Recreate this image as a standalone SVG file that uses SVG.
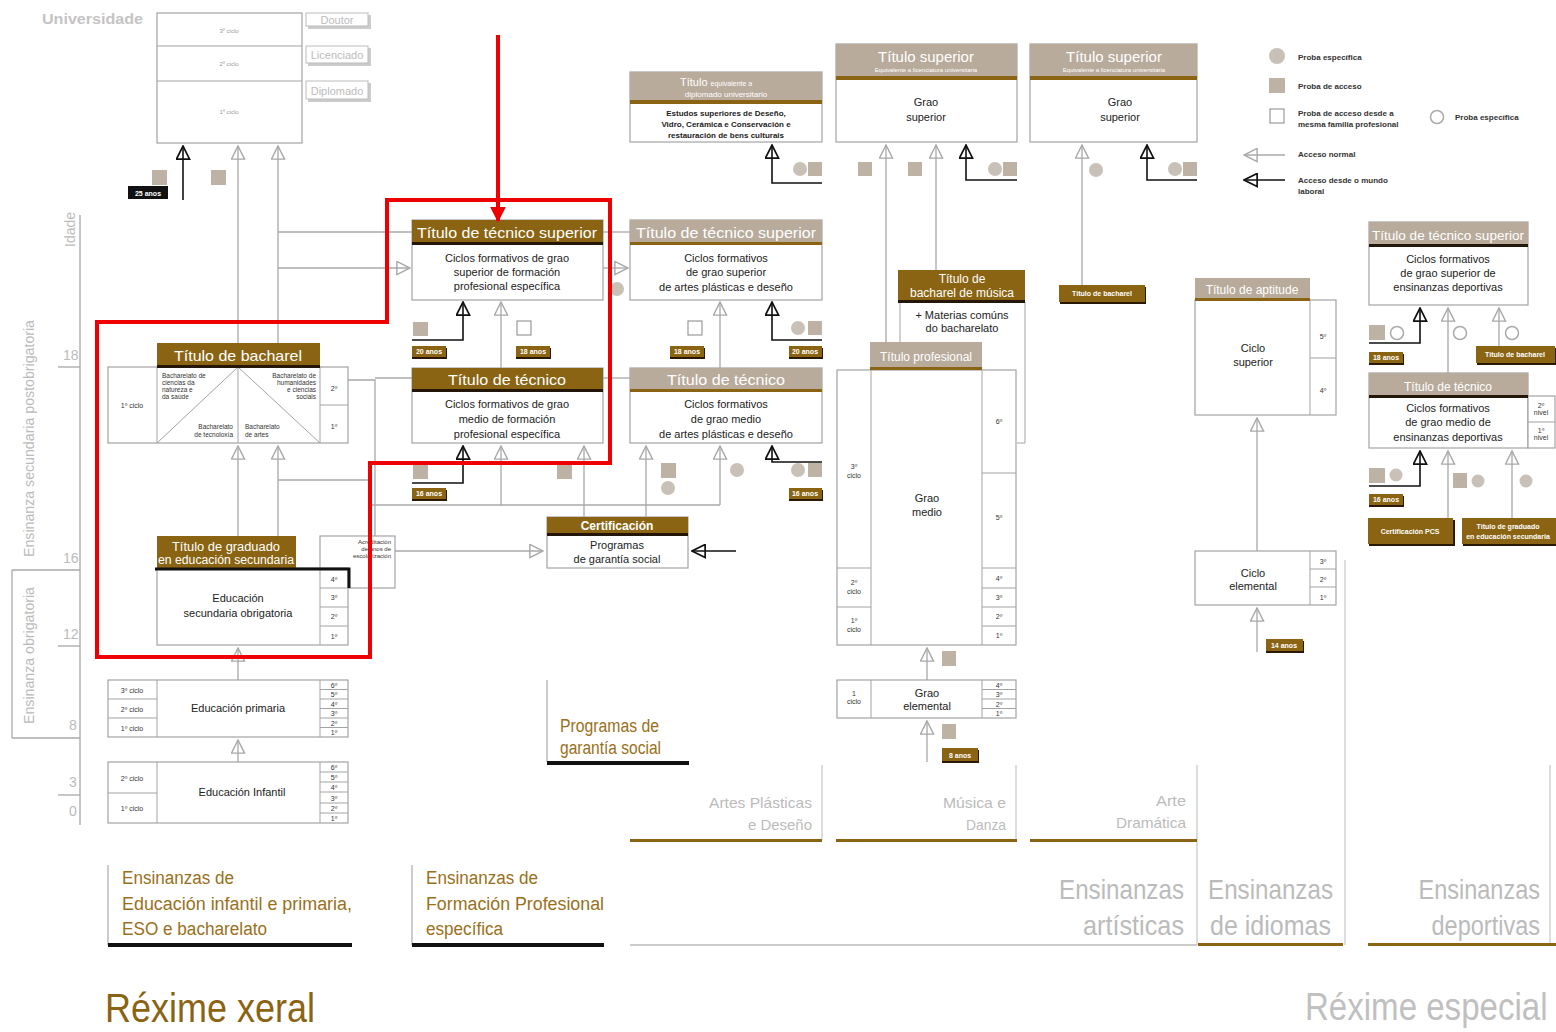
<svg xmlns="http://www.w3.org/2000/svg" width="1556" height="1032" viewBox="0 0 1556 1032">
<defs>
<style>
text{font-family:"Liberation Sans Narrow","Liberation Sans",Arial,sans-serif}
.box{fill:#fff;stroke:#a3a3a3;stroke-width:1.2}
.cell{fill:none;stroke:#a3a3a3;stroke-width:1}
.hb{fill:#8a6412}
.hg{fill:#b8ab9b}
.ulb{fill:#24170a}
.ulg{fill:#8a6412}
.ht{fill:#fff;font-size:15px;text-anchor:middle}
.hs{fill:#fff;font-size:12px;text-anchor:middle}
.bt{fill:#222;font-size:11px;text-anchor:middle}
.tn{fill:#333;font-size:7px;text-anchor:middle}
.tg{fill:#999;font-size:6px;text-anchor:middle}
.ln{stroke:#a8a8a8;stroke-width:1.3;fill:none}
.lk{stroke:#111;stroke-width:1.6;fill:none}
.sq{fill:#bdb2a3}
.ci{fill:#c9c1b7}
.wsq{fill:#fff;stroke:#999;stroke-width:1.2}
.wci{fill:#fff;stroke:#aaa;stroke-width:1.5}
.agr{fill:#8a6412}
.ags{fill:#2a1a05}
.agt{fill:#fff;font-size:7px;font-weight:bold;text-anchor:middle}
.ax{fill:#bbb;font-size:14px}
.cat{fill:#9a7020;font-size:18px}
.catg{fill:#bbb;font-size:15px;text-anchor:end}
.big{fill:#bbb;font-size:28px}
.lg{fill:#333;font-size:8px;font-weight:bold}
.red{stroke:#ee0000;stroke-width:4;fill:none}
</style>
<marker id="ag" viewBox="0 0 16 16" refX="15" refY="8" markerWidth="15" markerHeight="15" orient="auto" markerUnits="userSpaceOnUse">
<path d="M1,1 L15,8 L1,15 Z" fill="none" stroke="#a8a8a8" stroke-width="1.5"/>
</marker>
<marker id="ak" viewBox="0 0 16 16" refX="15" refY="8" markerWidth="15" markerHeight="15" orient="auto" markerUnits="userSpaceOnUse">
<path d="M1,1 L15,8 L1,15 Z" fill="none" stroke="#111" stroke-width="1.8"/>
</marker>
<marker id="ar" viewBox="0 0 10 10" refX="9" refY="5" markerWidth="16" markerHeight="16" orient="auto" markerUnits="userSpaceOnUse">
<path d="M0,0 L10,5 L0,10 Z" fill="#ee0000"/>
</marker>
</defs>
<rect width="1556" height="1032" fill="#fff"/>

<g id="connectors">
<line class="lk" x1="183" y1="200" x2="183" y2="146" marker-end="url(#ak)"/>
<line class="ln" x1="238" y1="343" x2="238" y2="146" marker-end="url(#ag)"/>
<line class="ln" x1="278" y1="343" x2="278" y2="146" marker-end="url(#ag)"/>
<polyline class="ln" points="278,232 412,232"/>
<polyline class="ln" points="603,232 630,232"/>
<line class="ln" x1="278" y1="268" x2="410" y2="268" marker-end="url(#ag)"/>
<line class="ln" x1="603" y1="268" x2="628" y2="268" marker-end="url(#ag)"/>
<polyline class="ln" points="348,380 375,380 375,536"/>
<line class="ln" x1="375" y1="378" x2="412" y2="378"/>
<line class="ln" x1="603" y1="378" x2="630" y2="378"/>
<line class="ln" x1="238" y1="536" x2="238" y2="446" marker-end="url(#ag)"/>
<line class="ln" x1="278" y1="536" x2="278" y2="446" marker-end="url(#ag)"/>
<polyline class="ln" points="278,480 370,480"/>
<polyline class="ln" points="370,505 720,505"/>
<polyline class="lk" points="412,340 463,340 463,302" marker-end="url(#ak)"/>
<line class="ln" x1="501" y1="368" x2="501" y2="302" marker-end="url(#ag)"/>
<polyline class="lk" points="412,483 463,483 463,446" marker-end="url(#ak)"/>
<line class="ln" x1="501" y1="505" x2="501" y2="446" marker-end="url(#ag)"/>
<line class="ln" x1="584" y1="517" x2="584" y2="446" marker-end="url(#ag)"/>
<line class="ln" x1="720" y1="368" x2="720" y2="302" marker-end="url(#ag)"/>
<polyline class="lk" points="822,340 772,340 772,302" marker-end="url(#ak)"/>
<line class="ln" x1="646" y1="517" x2="646" y2="446" marker-end="url(#ag)"/>
<line class="ln" x1="720" y1="505" x2="720" y2="446" marker-end="url(#ag)"/>
<polyline class="lk" points="822,462 772,462 772,446" marker-end="url(#ak)"/>
<polyline class="lk" points="822,183 772,183 772,145" marker-end="url(#ak)"/>
<line class="ln" x1="395" y1="551" x2="543" y2="551" marker-end="url(#ag)"/>
<line class="lk" x1="736" y1="551" x2="692" y2="551" marker-end="url(#ak)"/>
<line class="ln" x1="238" y1="680" x2="238" y2="648" marker-end="url(#ag)"/>
<line class="ln" x1="238" y1="762" x2="238" y2="740" marker-end="url(#ag)"/>
<line class="ln" x1="886" y1="342" x2="886" y2="145" marker-end="url(#ag)"/>
<line class="ln" x1="936" y1="270" x2="936" y2="145" marker-end="url(#ag)"/>
<polyline class="lk" points="1017,180 966,180 966,145" marker-end="url(#ak)"/>
<line class="ln" x1="927" y1="680" x2="927" y2="648" marker-end="url(#ag)"/>
<line class="ln" x1="927" y1="762" x2="927" y2="721" marker-end="url(#ag)"/>
<line class="ln" x1="1082" y1="285" x2="1082" y2="145" marker-end="url(#ag)"/>
<polyline class="lk" points="1197,180 1147,180 1147,145" marker-end="url(#ak)"/>
<line class="ln" x1="1257" y1="551" x2="1257" y2="418" marker-end="url(#ag)"/>
<line class="ln" x1="1257" y1="652" x2="1257" y2="608" marker-end="url(#ag)"/>
<polyline class="lk" points="1369,343 1420,343 1420,308" marker-end="url(#ak)"/>
<line class="ln" x1="1448" y1="373" x2="1448" y2="308" marker-end="url(#ag)"/>
<line class="ln" x1="1499" y1="346" x2="1499" y2="308" marker-end="url(#ag)"/>
<polyline class="lk" points="1369,486 1420,486 1420,451" marker-end="url(#ak)"/>
<line class="ln" x1="1448" y1="518" x2="1448" y2="451" marker-end="url(#ag)"/>
<line class="ln" x1="1512" y1="518" x2="1512" y2="451" marker-end="url(#ag)"/>
</g>

<g id="marks">
<rect class="sq" x="152" y="170" width="15" height="15"/>
<rect class="sq" x="211" y="170" width="15" height="15"/>
<rect class="sq" x="413" y="322" width="15" height="14"/>
<rect class="wsq" x="517" y="321" width="14" height="14"/>
<rect class="sq" x="413" y="465" width="15" height="14"/>
<rect class="sq" x="557" y="465" width="15" height="14"/>
<circle class="ci" cx="617" cy="289" r="7"/>
<rect class="wsq" x="688" y="321" width="14" height="14"/>
<circle class="ci" cx="798" cy="328" r="7"/><rect class="sq" x="808" y="321" width="14" height="14"/>
<rect class="sq" x="661" y="463" width="15" height="15"/>
<circle class="ci" cx="668" cy="488" r="7"/>
<circle class="ci" cx="737" cy="470" r="7"/>
<circle class="ci" cx="798" cy="470" r="7"/><rect class="sq" x="808" y="463" width="14" height="14"/>
<circle class="ci" cx="800" cy="169" r="7"/><rect class="sq" x="808" y="162" width="14" height="14"/>
<rect class="sq" x="858" y="162" width="14" height="14"/>
<rect class="sq" x="908" y="162" width="14" height="14"/>
<circle class="ci" cx="995" cy="169" r="7"/><rect class="sq" x="1003" y="162" width="14" height="14"/>
<circle class="ci" cx="1096" cy="170" r="7"/>
<circle class="ci" cx="1175" cy="169" r="7"/><rect class="sq" x="1183" y="162" width="14" height="14"/>
<rect class="sq" x="942" y="651" width="14" height="15"/>
<rect class="sq" x="942" y="724" width="14" height="15"/>
<rect class="sq" x="1369" y="325" width="16" height="15"/><circle class="wci" cx="1397" cy="333" r="6.5"/>
<circle class="wci" cx="1460" cy="333" r="6.5"/>
<circle class="wci" cx="1512" cy="333" r="6.5"/>
<rect class="sq" x="1369" y="468" width="16" height="15"/><circle class="ci" cx="1396" cy="475" r="6.5"/>
<rect class="sq" x="1453" y="473" width="14" height="15"/><circle class="ci" cx="1478" cy="481" r="6.5"/>
<circle class="ci" cx="1526" cy="481" r="6.5"/>
</g>

<g id="ages">
<rect x="128" y="186" width="40" height="13" fill="#111"/><text class="agt" x="148" y="196">25 anos</text>
<rect class="ags" x="412" y="348" width="35" height="11"/><rect class="agr" x="412" y="346" width="34" height="11"/><text class="agt" x="429" y="354">20 anos</text>
<rect class="ags" x="516" y="348" width="35" height="11"/><rect class="agr" x="516" y="346" width="34" height="11"/><text class="agt" x="533" y="354">18 anos</text>
<rect class="ags" x="412" y="490" width="35" height="11"/><rect class="agr" x="412" y="488" width="34" height="11"/><text class="agt" x="429" y="496">16 anos</text>
<rect class="ags" x="670" y="348" width="35" height="11"/><rect class="agr" x="670" y="346" width="34" height="11"/><text class="agt" x="687" y="354">18 anos</text>
<rect class="ags" x="789" y="348" width="34" height="11"/><rect class="agr" x="789" y="346" width="33" height="11"/><text class="agt" x="805" y="354">20 anos</text>
<rect class="ags" x="789" y="490" width="34" height="11"/><rect class="agr" x="789" y="488" width="33" height="11"/><text class="agt" x="805" y="496">16 anos</text>
<rect class="ags" x="942" y="750" width="37" height="13"/><rect class="agr" x="942" y="748" width="36" height="13"/><text class="agt" x="960" y="758">8 anos</text>
<rect class="ags" x="1266" y="641" width="38" height="12"/><rect class="agr" x="1266" y="639" width="37" height="12"/><text class="agt" x="1284" y="648">14 anos</text>
<rect class="ags" x="1369" y="354" width="35" height="11"/><rect class="agr" x="1369" y="352" width="34" height="11"/><text class="agt" x="1386" y="360">18 anos</text>
<rect class="ags" x="1369" y="496" width="35" height="11"/><rect class="agr" x="1369" y="494" width="34" height="11"/><text class="agt" x="1386" y="502">16 anos</text>
<rect class="ags" x="1060" y="287" width="86" height="17"/><rect class="agr" x="1059" y="285" width="86" height="17"/><text class="agt" x="1102" y="296">Título de bacharel</text>
<rect class="ags" x="1477" y="348" width="79" height="17"/><rect class="agr" x="1476" y="346" width="79" height="17"/><text class="agt" x="1515" y="357">Título de bacharel</text>
<rect class="ags" x="1369" y="520" width="86" height="26"/><rect class="agr" x="1368" y="518" width="85" height="26"/><text class="agt" x="1410" y="534">Certificación PCS</text>
<rect class="ags" x="1463" y="520" width="93" height="26"/><rect class="agr" x="1462" y="518" width="94" height="26"/><text class="agt" x="1508" y="529">Título de graduado</text><text class="agt" x="1508" y="539" font-size="6.5">en educación secundaria</text>
</g>

<g id="axis">
<line class="ln" x1="80" y1="215" x2="80" y2="825"/>
<line class="ln" x1="58" y1="367" x2="80" y2="367"/>
<line class="ln" x1="12" y1="570" x2="80" y2="570"/>
<line class="ln" x1="58" y1="646" x2="80" y2="646"/>
<line class="ln" x1="12" y1="738" x2="80" y2="738"/>
<line class="ln" x1="58" y1="795" x2="80" y2="795"/>
<line class="ln" x1="12" y1="570" x2="12" y2="738"/>
<text class="ax" font-size="12" transform="translate(75,247) rotate(-90)">Idade</text>
<text class="ax" x="63" y="360" font-size="14">18</text>
<text class="ax" x="63" y="563" font-size="14">16</text>
<text class="ax" x="63" y="639" font-size="14">12</text>
<text class="ax" x="69" y="730" font-size="14">8</text>
<text class="ax" x="69" y="787" font-size="14">3</text>
<text class="ax" x="69" y="816" font-size="14">0</text>
<text class="ax" font-size="12" transform="translate(34,557) rotate(-90)" textLength="237" lengthAdjust="spacingAndGlyphs">Ensinanza secundaria postobrigatoria</text>
<text class="ax" font-size="12" transform="translate(34,724) rotate(-90)" textLength="137" lengthAdjust="spacingAndGlyphs">Ensinanza obrigatoria</text>
</g>

<g id="universidade">
<text x="42" y="24" font-size="14" font-weight="bold" fill="#c4c4c4" textLength="101" lengthAdjust="spacingAndGlyphs">Universidade</text>
<rect class="box" x="157" y="13" width="145" height="130"/>
<line class="cell" x1="157" y1="46" x2="302" y2="46"/>
<line class="cell" x1="157" y1="81" x2="302" y2="81"/>
<text class="tg" x="229" y="33">3º ciclo</text>
<text class="tg" x="229" y="66">2º ciclo</text>
<text class="tg" x="229" y="114">1º ciclo</text>
<rect x="308" y="15" width="63" height="14" fill="#ccc"/><rect x="306" y="13" width="62" height="13" fill="#fff" stroke="#bbb"/>
<text x="337" y="24" font-size="11" fill="#bbb" text-anchor="middle">Doutor</text>
<rect x="308" y="48" width="63" height="18" fill="#ccc"/><rect x="306" y="46" width="62" height="17" fill="#fff" stroke="#bbb"/>
<text x="337" y="59" font-size="11" fill="#bbb" text-anchor="middle">Licenciado</text>
<rect x="308" y="83" width="63" height="19" fill="#ccc"/><rect x="306" y="81" width="62" height="18" fill="#fff" stroke="#bbb"/>
<text x="337" y="95" font-size="11" fill="#bbb" text-anchor="middle">Diplomado</text>
</g>

<g id="bacharel">
<rect class="box" x="108" y="367" width="240" height="76"/>
<line class="cell" x1="157" y1="367" x2="157" y2="443"/>
<line class="cell" x1="320" y1="367" x2="320" y2="443"/>
<line class="cell" x1="320" y1="405" x2="348" y2="405"/>
<line class="cell" x1="238" y1="367" x2="238" y2="443"/>
<line class="cell" x1="238" y1="367" x2="157" y2="443"/>
<line class="cell" x1="238" y1="367" x2="320" y2="443"/>
<rect class="hb" x="157" y="343" width="163" height="24"/>
<rect class="ulb" x="157" y="365" width="163" height="3"/>
<text class="ht" x="238" y="361" font-size="16" textLength="128" lengthAdjust="spacingAndGlyphs">Título de bacharel</text>
<text class="tn" x="132" y="408">1º ciclo</text>
<text class="tn" x="334" y="391" font-size="9">2º</text>
<text class="tn" x="334" y="429" font-size="9">1º</text>
<g font-size="6.5" fill="#333">
<text x="162" y="378">Bacharelato de</text><text x="162" y="385">ciencias da</text><text x="162" y="392">natureza e</text><text x="162" y="399">da saúde</text>
<text x="316" y="378" text-anchor="end">Bacharelato de</text><text x="316" y="385" text-anchor="end">humanidades</text><text x="316" y="392" text-anchor="end">e ciencias</text><text x="316" y="399" text-anchor="end">sociais</text>
<text x="233" y="429" text-anchor="end">Bacharelato</text><text x="233" y="437" text-anchor="end">de tecnoloxía</text>
<text x="245" y="429">Bacharelato</text><text x="245" y="437">de artes</text>
</g>
</g>

<g id="eso">
<rect class="box" x="320" y="536" width="75" height="52"/>
<g font-size="6" fill="#333" text-anchor="end"><text x="391" y="544">Acreditación</text><text x="391" y="551">de anos de</text><text x="391" y="558">escolarización</text></g>
<rect class="box" x="157" y="568" width="191" height="77"/>
<line class="cell" x1="320" y1="568" x2="320" y2="645"/>
<line class="cell" x1="320" y1="588" x2="348" y2="588"/>
<line class="cell" x1="320" y1="607" x2="348" y2="607"/>
<line class="cell" x1="320" y1="626" x2="348" y2="626"/>
<rect class="hb" x="157" y="536" width="139" height="32"/>
<path d="M155,569 H349 V588" fill="none" stroke="#111" stroke-width="3"/>
<text class="hs" x="226" y="551" textLength="108" lengthAdjust="spacingAndGlyphs">Título de graduado</text>
<text class="hs" x="226" y="564" textLength="136" lengthAdjust="spacingAndGlyphs">en educación secundaria</text>
<text class="bt" x="238" y="602">Educación</text>
<text class="bt" x="238" y="617">secundaria obrigatoria</text>
<text class="tn" x="334" y="582" font-size="8">4º</text>
<text class="tn" x="334" y="600" font-size="8">3º</text>
<text class="tn" x="334" y="619" font-size="8">2º</text>
<text class="tn" x="334" y="639" font-size="8">1º</text>
</g>

<g id="primaria">
<rect class="box" x="108" y="680" width="240" height="57"/>
<line class="cell" x1="157" y1="680" x2="157" y2="737"/>
<line class="cell" x1="320" y1="680" x2="320" y2="737"/>
<line class="cell" x1="108" y1="699" x2="157" y2="699"/>
<line class="cell" x1="108" y1="718" x2="157" y2="718"/>
<g class="cell"><line x1="320" y1="689.5" x2="348" y2="689.5"/><line x1="320" y1="699" x2="348" y2="699"/><line x1="320" y1="708.5" x2="348" y2="708.5"/><line x1="320" y1="718" x2="348" y2="718"/><line x1="320" y1="727.5" x2="348" y2="727.5"/></g>
<text class="tn" x="132" y="693">3º ciclo</text><text class="tn" x="132" y="712">2º ciclo</text><text class="tn" x="132" y="731">1º ciclo</text>
<g class="tn" font-size="7"><text x="334" y="688">6º</text><text x="334" y="697">5º</text><text x="334" y="707">4º</text><text x="334" y="716">3º</text><text x="334" y="726">2º</text><text x="334" y="735">1º</text></g>
<text class="bt" x="238" y="712">Educación primaria</text>
</g>

<g id="infantil">
<rect class="box" x="108" y="762" width="240" height="61"/>
<line class="cell" x1="157" y1="762" x2="157" y2="823"/>
<line class="cell" x1="320" y1="762" x2="320" y2="823"/>
<line class="cell" x1="108" y1="793" x2="157" y2="793"/>
<g class="cell"><line x1="320" y1="772" x2="348" y2="772"/><line x1="320" y1="782" x2="348" y2="782"/><line x1="320" y1="792" x2="348" y2="792"/><line x1="320" y1="803" x2="348" y2="803"/><line x1="320" y1="813" x2="348" y2="813"/></g>
<text class="tn" x="132" y="781">2º ciclo</text><text class="tn" x="132" y="811">1º ciclo</text>
<g class="tn" font-size="7"><text x="334" y="770">6º</text><text x="334" y="780">5º</text><text x="334" y="790">4º</text><text x="334" y="801">3º</text><text x="334" y="811">2º</text><text x="334" y="821">1º</text></g>
<text class="bt" x="242" y="796">Educación Infantil</text>
</g>

<g id="fp-superior">
<rect class="box" x="412" y="220" width="191" height="80"/>
<rect class="hb" x="412" y="220" width="191" height="23"/>
<rect class="ulb" x="412" y="242" width="191" height="3"/>
<text class="ht" x="507" y="238" textLength="180" lengthAdjust="spacingAndGlyphs">Título de técnico superior</text>
<text class="bt" x="507" y="262">Ciclos formativos de grao</text>
<text class="bt" x="507" y="276">superior de formación</text>
<text class="bt" x="507" y="290">profesional específica</text>
</g>
<g id="fp-tecnico">
<rect class="box" x="412" y="368" width="191" height="75"/>
<rect class="hb" x="412" y="368" width="191" height="22"/>
<rect class="ulb" x="412" y="389" width="191" height="3"/>
<text class="ht" x="507" y="385" textLength="118" lengthAdjust="spacingAndGlyphs">Título de técnico</text>
<text class="bt" x="507" y="408">Ciclos formativos de grao</text>
<text class="bt" x="507" y="423">medio de formación</text>
<text class="bt" x="507" y="438">profesional específica</text>
</g>
<g id="certificacion">
<rect class="box" x="547" y="517" width="141" height="51"/>
<rect class="hb" x="547" y="517" width="141" height="17"/>
<rect class="ulb" x="547" y="533" width="141" height="3"/>
<text class="hs" x="617" y="530" font-size="11" font-weight="bold">Certificación</text>
<text class="bt" x="617" y="549">Programas</text>
<text class="bt" x="617" y="563">de garantía social</text>
</g>

<g id="artes-equivalente">
<rect class="box" x="630" y="72" width="192" height="70"/>
<rect class="hg" x="630" y="72" width="192" height="29"/>
<rect class="ulg" x="630" y="100" width="192" height="4"/>
<text x="680" y="86" fill="#fff" font-size="11">Título <tspan font-size="7">equivalente a</tspan></text>
<text x="726" y="97" fill="#fff" font-size="8" text-anchor="middle">diplomado universitario</text>
<g font-size="8" fill="#222" text-anchor="middle" font-weight="bold"><text x="726" y="116">Estudos superiores de Deseño,</text><text x="726" y="127">Vidro, Cerámica e Conservación e</text><text x="726" y="138">restauración de bens culturais</text></g>
</g>
<g id="artes-superior">
<rect class="box" x="630" y="220" width="192" height="80"/>
<rect class="hg" x="630" y="220" width="192" height="23"/>
<rect class="ulg" x="630" y="242" width="192" height="3"/>
<text class="ht" x="726" y="238" textLength="180" lengthAdjust="spacingAndGlyphs">Título de técnico superior</text>
<text class="bt" x="726" y="262">Ciclos formativos</text>
<text class="bt" x="726" y="276">de grao superior</text>
<text class="bt" x="726" y="291">de artes plásticas e deseño</text>
</g>
<g id="artes-tecnico">
<rect class="box" x="630" y="368" width="192" height="75"/>
<rect class="hg" x="630" y="368" width="192" height="22"/>
<rect class="ulg" x="630" y="389" width="192" height="3"/>
<text class="ht" x="726" y="385" textLength="118" lengthAdjust="spacingAndGlyphs">Título de técnico</text>
<text class="bt" x="726" y="408">Ciclos formativos</text>
<text class="bt" x="726" y="423">de grao medio</text>
<text class="bt" x="726" y="438">de artes plásticas e deseño</text>
</g>

<g id="musica-superior">
<rect class="box" x="836" y="44" width="181" height="98"/>
<rect class="hg" x="836" y="44" width="181" height="33"/>
<rect class="ulg" x="836" y="76" width="181" height="4"/>
<text class="ht" x="926" y="62" font-size="14">Título superior</text>
<text x="926" y="72" fill="#fff" font-size="6" text-anchor="middle">Equivalente a licenciatura universitaria</text>
<text class="bt" x="926" y="106">Grao</text>
<text class="bt" x="926" y="121">superior</text>
</g>
<g id="bacharel-musica">
<polyline points="900,302 900,368" class="cell"/>
<polyline points="1017,302 1025,302 1025,443 1017,443" class="cell"/>
<rect class="hb" x="898" y="270" width="127" height="31"/>
<rect class="ulb" x="898" y="300" width="127" height="3"/>
<text class="hs" x="962" y="283" font-size="12">Título de</text>
<text class="hs" x="962" y="297" font-size="12">bacharel de música</text>
<text class="bt" x="962" y="319" font-size="10">+ Materias comúns</text>
<text class="bt" x="962" y="332" font-size="10">do bacharelato</text>
</g>
<g id="grao-medio">
<rect class="box" x="837" y="370" width="179" height="275"/>
<line class="cell" x1="871" y1="370" x2="871" y2="645"/>
<line class="cell" x1="982" y1="370" x2="982" y2="645"/>
<line class="cell" x1="982" y1="473" x2="1016" y2="473"/>
<line class="cell" x1="837" y1="568" x2="871" y2="568"/>
<line class="cell" x1="982" y1="568" x2="1016" y2="568"/>
<line class="cell" x1="982" y1="588" x2="1016" y2="588"/>
<line class="cell" x1="837" y1="607" x2="871" y2="607"/>
<line class="cell" x1="982" y1="607" x2="1016" y2="607"/>
<line class="cell" x1="982" y1="626" x2="1016" y2="626"/>
<rect class="hg" x="870" y="342" width="112" height="26"/>
<rect class="ulg" x="870" y="367" width="112" height="3"/>
<text class="hs" x="926" y="361" font-size="13">Título profesional</text>
<text class="bt" x="927" y="502">Grao</text>
<text class="bt" x="927" y="516">medio</text>
<text class="tn" x="854" y="469">3º</text><text class="tn" x="854" y="478" font-size="5">ciclo</text>
<text class="tn" x="854" y="585">2º</text><text class="tn" x="854" y="594" font-size="5">ciclo</text>
<text class="tn" x="854" y="623">1º</text><text class="tn" x="854" y="632" font-size="5">ciclo</text>
<g class="tn" font-size="8"><text x="999" y="424">6º</text><text x="999" y="520">5º</text><text x="999" y="581">4º</text><text x="999" y="600">3º</text><text x="999" y="619">2º</text><text x="999" y="638">1º</text></g>
</g>
<g id="grao-elemental">
<rect class="box" x="837" y="680" width="179" height="38"/>
<line class="cell" x1="871" y1="680" x2="871" y2="718"/>
<line class="cell" x1="982" y1="680" x2="982" y2="718"/>
<g class="cell"><line x1="982" y1="689.5" x2="1016" y2="689.5"/><line x1="982" y1="699" x2="1016" y2="699"/><line x1="982" y1="708.5" x2="1016" y2="708.5"/></g>
<text class="tn" x="854" y="696">1</text><text class="tn" x="854" y="704" font-size="5">ciclo</text>
<text class="bt" x="927" y="697">Grao</text>
<text class="bt" x="927" y="710">elemental</text>
<g class="tn" font-size="7"><text x="999" y="688">4º</text><text x="999" y="697">3º</text><text x="999" y="707">2º</text><text x="999" y="716">1º</text></g>
</g>

<g id="arte-dramatica-superior">
<rect class="box" x="1030" y="44" width="167" height="98"/>
<rect class="hg" x="1030" y="44" width="167" height="33"/>
<rect class="ulg" x="1030" y="76" width="167" height="4"/>
<text class="ht" x="1114" y="62" font-size="14">Título superior</text>
<text x="1114" y="72" fill="#fff" font-size="6" text-anchor="middle">Equivalente a licenciatura universitaria</text>
<text class="bt" x="1120" y="106">Grao</text>
<text class="bt" x="1120" y="121">superior</text>
</g>

<g id="legend">
<circle class="ci" cx="1277" cy="56" r="8"/>
<text class="lg" x="1298" y="60">Proba específica</text>
<rect class="sq" x="1269" y="78" width="16" height="15"/>
<text class="lg" x="1298" y="89">Proba de acceso</text>
<rect class="wsq" x="1270" y="109" width="14" height="14"/>
<text class="lg" x="1298" y="116">Proba de acceso desde a</text>
<text class="lg" x="1298" y="127">mesma familia profesional</text>
<circle class="wci" cx="1437" cy="117" r="6.5"/>
<text class="lg" x="1455" y="120">Proba específica</text>
<line class="ln" x1="1285" y1="155" x2="1244" y2="155" marker-end="url(#ag)"/>
<text class="lg" x="1298" y="157">Acceso normal</text>
<line class="lk" x1="1285" y1="180" x2="1244" y2="180" marker-end="url(#ak)"/>
<text class="lg" x="1298" y="183">Acceso desde o mundo</text>
<text class="lg" x="1298" y="194">laboral</text>
</g>

<g id="idiomas-superior">
<rect class="box" x="1195" y="300" width="141" height="115"/>
<line class="cell" x1="1310" y1="300" x2="1310" y2="415"/>
<line class="cell" x1="1310" y1="358" x2="1336" y2="358"/>
<rect class="hg" x="1195" y="278" width="115" height="22"/>
<rect class="ulg" x="1195" y="298" width="115" height="3"/>
<text class="hs" x="1252" y="294" font-size="13">Título de aptitude</text>
<text class="bt" x="1253" y="352">Ciclo</text>
<text class="bt" x="1253" y="366">superior</text>
<text class="tn" x="1323" y="339" font-size="9">5º</text>
<text class="tn" x="1323" y="393" font-size="9">4º</text>
</g>
<g id="idiomas-elemental">
<rect class="box" x="1195" y="551" width="141" height="54"/>
<line class="cell" x1="1310" y1="551" x2="1310" y2="605"/>
<line class="cell" x1="1310" y1="569" x2="1336" y2="569"/>
<line class="cell" x1="1310" y1="587" x2="1336" y2="587"/>
<text class="bt" x="1253" y="577">Ciclo</text>
<text class="bt" x="1253" y="590">elemental</text>
<g class="tn" font-size="8"><text x="1323" y="564">3º</text><text x="1323" y="582">2º</text><text x="1323" y="600">1º</text></g>
</g>

<g id="deportivas-superior">
<rect class="box" x="1369" y="222" width="159" height="83"/>
<rect class="hg" x="1369" y="222" width="159" height="23"/>
<rect class="ulb" x="1369" y="244" width="159" height="3"/>
<text class="hs" x="1448" y="240" font-size="14" textLength="152" lengthAdjust="spacingAndGlyphs">Título de técnico superior</text>
<text class="bt" x="1448" y="263">Ciclos formativos</text>
<text class="bt" x="1448" y="277">de grao superior de</text>
<text class="bt" x="1448" y="291">ensinanzas deportivas</text>
</g>
<g id="deportivas-tecnico">
<rect class="box" x="1369" y="373" width="159" height="75"/>
<rect x="1528" y="396" width="27" height="52" class="box"/>
<line class="cell" x1="1528" y1="422" x2="1555" y2="422"/>
<rect class="hg" x="1369" y="373" width="159" height="23"/>
<rect class="ulb" x="1369" y="395" width="159" height="3"/>
<text class="hs" x="1448" y="391" font-size="13">Título de técnico</text>
<text class="bt" x="1448" y="412">Ciclos formativos</text>
<text class="bt" x="1448" y="426">de grao medio de</text>
<text class="bt" x="1448" y="441">ensinanzas deportivas</text>
<text class="tn" x="1541" y="408" font-size="6">2º</text><text class="tn" x="1541" y="415" font-size="5">nivel</text>
<text class="tn" x="1541" y="433" font-size="6">1º</text><text class="tn" x="1541" y="440" font-size="5">nivel</text>
</g>

<g id="categories">
<line x1="108" y1="865" x2="108" y2="945" stroke="#999" stroke-width="1"/>
<text class="cat" x="122" y="884" textLength="112" lengthAdjust="spacingAndGlyphs">Ensinanzas de</text>
<text class="cat" x="122" y="910" textLength="230" lengthAdjust="spacingAndGlyphs">Educación infantil e primaria,</text>
<text class="cat" x="122" y="935" textLength="145" lengthAdjust="spacingAndGlyphs">ESO e bacharelato</text>
<rect x="108" y="943" width="244" height="4" fill="#111"/>
<line x1="412" y1="865" x2="412" y2="945" stroke="#999" stroke-width="1"/>
<text class="cat" x="426" y="884" textLength="112" lengthAdjust="spacingAndGlyphs">Ensinanzas de</text>
<text class="cat" x="426" y="910" textLength="178" lengthAdjust="spacingAndGlyphs">Formación Profesional</text>
<text class="cat" x="426" y="935" textLength="77" lengthAdjust="spacingAndGlyphs">específica</text>
<rect x="412" y="943" width="192" height="4" fill="#111"/>
<line x1="547" y1="680" x2="547" y2="762" stroke="#999" stroke-width="1"/>
<text class="cat" x="560" y="732" font-size="16" textLength="99" lengthAdjust="spacingAndGlyphs">Programas de</text>
<text class="cat" x="560" y="754" font-size="16" textLength="101" lengthAdjust="spacingAndGlyphs">garantía social</text>
<rect x="547" y="761" width="142" height="4" fill="#111"/>
<line x1="822" y1="765" x2="822" y2="840" stroke="#bbb" stroke-width="1"/>
<text class="catg" x="812" y="808" textLength="103" lengthAdjust="spacingAndGlyphs">Artes Plásticas</text>
<text class="catg" x="812" y="830" textLength="64" lengthAdjust="spacingAndGlyphs">e Deseño</text>
<rect x="630" y="839" width="192" height="3" fill="#8a6412"/>
<line x1="1016" y1="765" x2="1016" y2="840" stroke="#bbb" stroke-width="1"/>
<text class="catg" x="1006" y="808" textLength="63" lengthAdjust="spacingAndGlyphs">Música e</text>
<text class="catg" x="1006" y="830" textLength="40" lengthAdjust="spacingAndGlyphs">Danza</text>
<rect x="836" y="839" width="181" height="3" fill="#8a6412"/>
<line x1="1197" y1="765" x2="1197" y2="945" stroke="#bbb" stroke-width="1"/>
<text class="catg" x="1186" y="806" textLength="30" lengthAdjust="spacingAndGlyphs">Arte</text>
<text class="catg" x="1186" y="828" textLength="70" lengthAdjust="spacingAndGlyphs">Dramática</text>
<rect x="1030" y="839" width="167" height="3" fill="#8a6412"/>
<text class="big" x="1184" y="899" text-anchor="end" textLength="125" lengthAdjust="spacingAndGlyphs">Ensinanzas</text>
<text class="big" x="1184" y="935" text-anchor="end" textLength="101" lengthAdjust="spacingAndGlyphs">artísticas</text>
<rect x="630" y="944" width="567" height="2" fill="#ccc"/>
<line x1="1345" y1="560" x2="1345" y2="945" stroke="#bbb" stroke-width="1"/>
<text class="big" x="1208" y="899" textLength="125" lengthAdjust="spacingAndGlyphs">Ensinanzas</text>
<text class="big" x="1210" y="935" textLength="121" lengthAdjust="spacingAndGlyphs">de idiomas</text>
<rect x="1198" y="943" width="145" height="3" fill="#8a6412"/>
<line x1="1550" y1="765" x2="1550" y2="945" stroke="#bbb" stroke-width="1"/>
<text class="big" text-anchor="end" transform="translate(1540,899) scale(0.84,1)">Ensinanzas</text>
<text class="big" text-anchor="end" transform="translate(1540,935) scale(0.84,1)">deportivas</text>
<rect x="1368" y="943" width="188" height="3" fill="#8a6412"/>
<text x="105" y="1022" font-size="40" fill="#8a6412" textLength="210" lengthAdjust="spacingAndGlyphs">Réxime xeral</text>
<text font-size="38" fill="#c0c0c0" transform="translate(1305,1020) scale(0.87,1)">Réxime especial</text>
</g>

<g id="annotation">
<line x1="498" y1="35" x2="498" y2="221" stroke="#ee0000" stroke-width="4" marker-end="url(#ar)"/>
<polygon class="red" points="97,322 387,322 387,200 610,200 610,463 370,463 370,657 97,657"/>
</g>
</svg>
